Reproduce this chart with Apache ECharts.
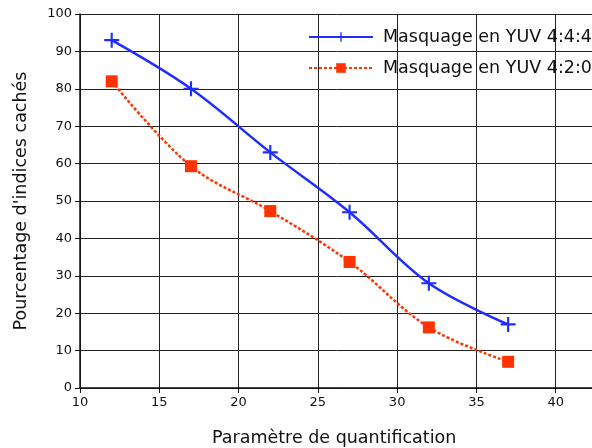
<!DOCTYPE html>
<html>
<head>
<meta charset="utf-8">
<script src="https://cdn.jsdelivr.net/npm/echarts@6/dist/echarts.min.js"></script>
<style>
  html, body { margin: 0; padding: 0; background: #fff; }
  #main { width: 592px; height: 448px; }
</style>
</head>
<body>
<div id="main"></div>
<script>
var myChart = echarts.init(document.getElementById('main'));

// valeurs
var qp = [12, 17, 22, 27, 32, 37];
var yuv444 = [93, 80, 63, 47, 28, 17];
var yuv420 = [82, 59.3, 47.3, 33.7, 16.2, 7];
var seriesNames = ['Masquage en YUV 4:4:4', 'Masquage en YUV 4:2:0'];

function pairs(xs, ys) {
    return xs.map(function (x, i) { return [x, ys[i]]; });
}

var crossPath = 'path://M-1,-7 L1,-7 L1,-1 L7,-1 L7,1 L1,1 L1,7 L-1,7 L-1,1 L-7,1 L-7,-1 L-1,-1 Z';
var font = 'DejaVu Sans';

var option = {
    backgroundColor: '#fff',
    animation: false,
    textStyle: { fontFamily: font },
    title: {
        text: 'Paramètre de quantification',
        left: 207,
        top: 424,
        textStyle: { fontFamily: font, fontSize: 17.5, fontWeight: 'normal', color: '#111' }
    },
    legend: {
        orient: 'vertical',
        left: 303,
        top: 23,
        itemWidth: 64,
        itemHeight: 12,
        itemGap: 13,
        textStyle: { fontFamily: font, fontSize: 17.5, color: '#111', padding: [0, 0, 0, 5] },
        data: seriesNames
    },
    grid: {
        left: 80,
        right: -43,
        top: 14,
        bottom: 60,
        outerBoundsMode: 'none'
    },
    xAxis: {
        type: 'value',
        min: 10,
        max: 45,
        interval: 5,
        axisLine: { show: true, lineStyle: { color: '#111', width: 1.5 } },
        axisTick: { show: true, length: 5, lineStyle: { color: '#111' } },
        axisLabel: {
            fontFamily: font, fontSize: 13, color: '#111', margin: 8,
            formatter: function (v) { return v > 40 ? '' : v; }
        },
        splitLine: { show: true, lineStyle: { color: '#222', width: 1 } }
    },
    yAxis: {
        type: 'value',
        min: 0,
        max: 100,
        interval: 10,
        name: "Pourcentage d'indices cachés",
        nameLocation: 'middle',
        nameGap: 50,
        nameTextStyle: { fontFamily: font, fontSize: 17.5, color: '#111' },
        axisLine: { show: true, lineStyle: { color: '#111', width: 1.5 } },
        axisTick: { show: true, length: 5, lineStyle: { color: '#111' } },
        axisLabel: { fontFamily: font, fontSize: 13, color: '#111', margin: 8 },
        splitLine: { show: true, lineStyle: { color: '#222', width: 1 } }
    },
    series: [{
        name: seriesNames[0],
        type: 'line',
        smooth: 0.35,
        data: pairs(qp, yuv444),
        symbol: crossPath,
        symbolSize: 15,
        lineStyle: { color: '#1f2eff', width: 2.5 },
        itemStyle: { color: '#1f2eff' }
    }, {
        name: seriesNames[1],
        type: 'line',
        smooth: 0.35,
        data: pairs(qp, yuv420),
        symbol: 'rect',
        symbolSize: 12,
        lineStyle: { color: '#ff3300', width: 2.5, type: [3, 2] },
        itemStyle: { color: '#ff3300' }
    }]
};

myChart.setOption(option);
</script>
</body>
</html>
